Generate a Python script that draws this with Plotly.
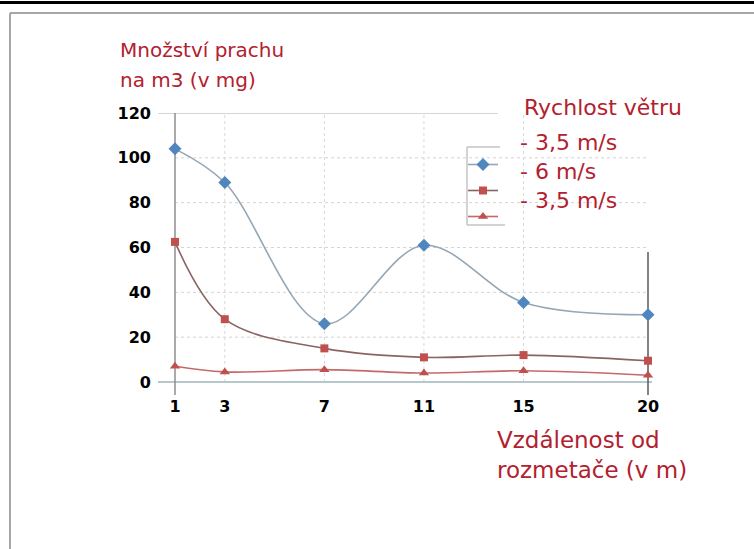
import plotly.graph_objects as go

W, H = 754, 549

# ---- data ----
distances = [1, 3, 7, 11, 15, 20]
dust_wind_35 = [104, 89, 26, 61, 35.5, 30]
dust_wind_6 = [62.5, 28, 15, 11, 12, 9.5]
dust_wind_35b = [7, 4.5, 5.5, 4, 5, 3]
y_ticks = [0, 20, 40, 60, 80, 100, 120]
series_labels = ["- 3,5 m/s", "- 6 m/s", "- 3,5 m/s"]
y_title = ["Množství prachu", "na m3 (v mg)"]
x_title = ["Vzdálenost od", "rozmetače (v m)"]
legend_title = "Rychlost větru"

def px(x):
    return x / W

def py(y):
    return 1 - y / H

RED = "#b3202e"
TXT_FONT = "DejaVu Sans"

# plot geometry (pixels)
x_left_px, x_right_px = 158, 660
y_top_px, y_bot_px = 113, 395
x1_px, x20_px = 175, 648
unit_x = (x20_px - x1_px) / 19
xr0 = 1 - (x1_px - x_left_px) / unit_x
xr1 = 20 + (x_right_px - x20_px) / unit_x
zero_px = 382
unit_y = (zero_px - y_top_px) / 120
yr0 = -(y_bot_px - zero_px) / unit_y

fig = go.Figure()

styles = [
    dict(symbol="diamond", size=10, mcolor="#4f86bd", lcolor="#95a6b4"),
    dict(symbol="square", size=8, mcolor="#c0504d", lcolor="#8a6462"),
    dict(symbol="triangle-up", size=9, mcolor="#c0504d", lcolor="#c46a6a"),
]
for i, (vals, st) in enumerate(zip([dust_wind_35, dust_wind_6, dust_wind_35b], styles)):
    fig.add_trace(go.Scatter(
        x=distances, y=vals, mode="lines+markers", name="",
        legendgroup=f"g{i}",
        line=dict(color=st["lcolor"], width=1.6, shape="spline", smoothing=1.0),
        marker=dict(symbol=st["symbol"], size=st["size"], color=st["mcolor"]),
        cliponaxis=False,
    ))

shapes = []
# outer frame
shapes.append(dict(type="line", xref="paper", yref="paper", x0=0, x1=1, y0=py(2.5), y1=py(2.5),
                   line=dict(color="black", width=3)))
shapes.append(dict(type="line", xref="paper", yref="paper", x0=px(10), x1=1, y0=py(13), y1=py(13),
                   line=dict(color="#a6a6a6", width=2)))
shapes.append(dict(type="line", xref="paper", yref="paper", x0=px(10), x1=px(10), y0=py(13), y1=0,
                   line=dict(color="#a6a6a6", width=2)))
# dotted horizontal grid
for v in [20, 40, 60, 80, 100]:
    shapes.append(dict(type="line", xref="x", yref="y", x0=1, x1=20, y0=v, y1=v, layer="below",
                       line=dict(color="#d4d4d4", width=1, dash="dot")))
# dotted vertical grid
for v in [3, 7, 11, 15]:
    shapes.append(dict(type="line", xref="x", yref="y", x0=v, x1=v, y0=0, y1=120, layer="below",
                       line=dict(color="#d8d8d8", width=1, dash="dot")))
# top line at 120
shapes.append(dict(type="line", xref="x", yref="y", x0=xr0, x1=1 + (498 - x1_px) / unit_x, y0=120, y1=120,
                   layer="below", line=dict(color="#c8c8c8", width=1.5)))
# baseline
shapes.append(dict(type="line", xref="x", yref="y", x0=1 - (x1_px - 155) / unit_x, x1=20 + 4 / unit_x,
                   y0=0, y1=0, layer="below", line=dict(color="#b6c8cc", width=2)))
# vertical axis lines at 1 and 20
shapes.append(dict(type="line", xref="x", yref="y", x0=1, x1=1, y0=yr0, y1=120, layer="below",
                   line=dict(color="#8e8e8e", width=1.5)))
shapes.append(dict(type="line", xref="x", yref="y", x0=20, x1=20, y0=yr0, y1=(zero_px - 252) / unit_y,
                   layer="below", line=dict(color="#5a5a5a", width=1.5)))
# legend partial box
shapes.append(dict(type="line", xref="paper", yref="paper", x0=px(467), x1=px(467), y0=py(147), y1=py(225),
                   line=dict(color="#c4c4c4", width=1.5)))
shapes.append(dict(type="line", xref="paper", yref="paper", x0=px(467), x1=px(500), y0=py(147), y1=py(147),
                   line=dict(color="#c4c4c4", width=1.5)))
shapes.append(dict(type="line", xref="paper", yref="paper", x0=px(467), x1=px(505), y0=py(225), y1=py(225),
                   line=dict(color="#c4c4c4", width=1.5)))

annotations = []
def txt(t, x, y, size=22):
    annotations.append(dict(text=t, xref="paper", yref="paper", x=px(x), y=py(y), xanchor="left",
                            yanchor="middle", showarrow=False,
                            font=dict(family=TXT_FONT, size=size, color=RED)))

txt(y_title[0], 118, 50, 20)
txt(y_title[1], 118, 80, 20)
txt(legend_title, 522, 107)
for lab, yy in zip(series_labels, [142, 171, 200]):
    txt(lab, 518, yy)
txt(x_title[0], 495, 440, 23)
txt(x_title[1], 495, 470, 23)

tick_font = dict(family="DejaVu Sans", size=16, color="black", weight="bold")

fig.update_layout(
    width=W, height=H, autosize=False,
    margin=dict(l=0, r=0, t=0, b=0, pad=0, autoexpand=False),
    paper_bgcolor="white", plot_bgcolor="rgba(0,0,0,0)",
    showlegend=True,
    legend=dict(x=px(463), y=py(150), xanchor="left", yanchor="top", bgcolor="rgba(0,0,0,0)",
                font=dict(size=10), tracegroupgap=7, itemwidth=30),
    xaxis=dict(domain=[px(x_left_px), px(x_right_px)], range=[xr0, xr1], showgrid=False,
               zeroline=False, showline=False, tickvals=distances, ticktext=[str(d) for d in distances],
               tickfont=tick_font, ticks="", ticklabelstandoff=0, automargin=False),
    yaxis=dict(domain=[py(y_bot_px), py(y_top_px)], range=[yr0, 120], showgrid=False,
               zeroline=False, showline=False, tickvals=y_ticks,
               tickfont=tick_font, ticks="", ticklabelstandoff=6, automargin=False),
    shapes=shapes, annotations=annotations,
)

post = ("document.body.style.margin='0';document.body.style.overflow='hidden';"
        "var d=document.getElementById('{plot_id}');d.style.position='fixed';"
        "d.style.left='0px';d.style.top='0px';")
fig.write_html("out.html", config={"displayModeBar": False}, post_script=post)
